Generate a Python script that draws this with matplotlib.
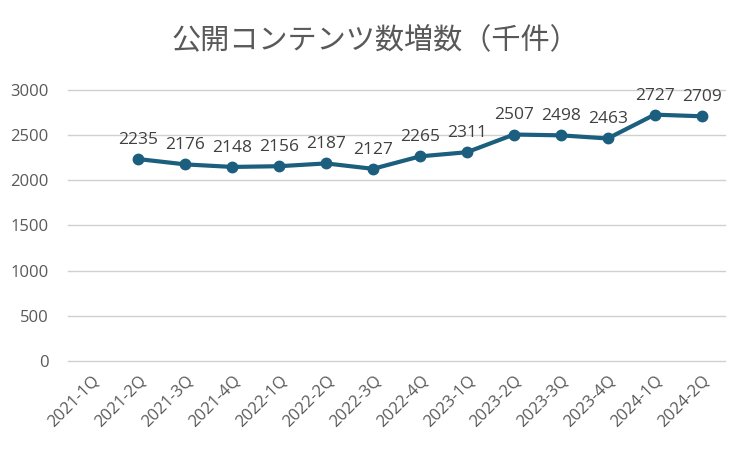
import matplotlib.pyplot as plt
import numpy as np

plt.rcParams['font.family'] = ['Open Sans', 'Noto Sans CJK JP', 'DejaVu Sans']

quarters = ["2021-1Q", "2021-2Q", "2021-3Q", "2021-4Q", "2022-1Q", "2022-2Q", "2022-3Q",
            "2022-4Q", "2023-1Q", "2023-2Q", "2023-3Q", "2023-4Q", "2024-1Q", "2024-2Q"]
counts = [np.nan, 2235, 2176, 2148, 2156, 2187, 2127, 2265, 2311, 2507, 2498, 2463, 2727, 2709]

fig = plt.figure(figsize=(7.5, 4.5), dpi=100)
ax = fig.add_axes([0.0907, 0.198, 0.876, 0.602])

x = np.arange(len(quarters))
ax.plot(x, counts, color="#1b5e7e", linewidth=3, marker="o", markersize=7.5, zorder=3)
for xi, v in zip(x, counts):
    if not np.isnan(v):
        ax.annotate(str(int(v)), (xi, v), xytext=(0, 8), textcoords="offset points",
                    ha="center", va="bottom", fontsize=12.5, color="#404040")

ax.set_xlim(-0.5, len(quarters) - 0.5)
ax.set_ylim(0, 3000)
ax.set_yticks(range(0, 3001, 500))
ax.set_xticks(x)
ax.set_xticklabels(quarters, rotation=45, ha="right", rotation_mode="anchor")
ax.tick_params(axis="both", length=0, labelsize=12, labelcolor="#595959")
ax.tick_params(axis="x", pad=8)
ax.tick_params(axis="y", pad=14)
ax.grid(axis="y", color="#d0d0d0", linewidth=1)
for gl in ax.get_ygridlines():
    gl.set_clip_on(False)
ax.set_axisbelow(True)
for s in ax.spines.values():
    s.set_visible(False)

fig.text(0.5, 0.91, "公開コンテンツ数増数（千件）", ha="center", va="center",
         fontsize=21, color="#595959", family=['Noto Sans CJK JP', 'DejaVu Sans'])

fig.savefig("out.png")
